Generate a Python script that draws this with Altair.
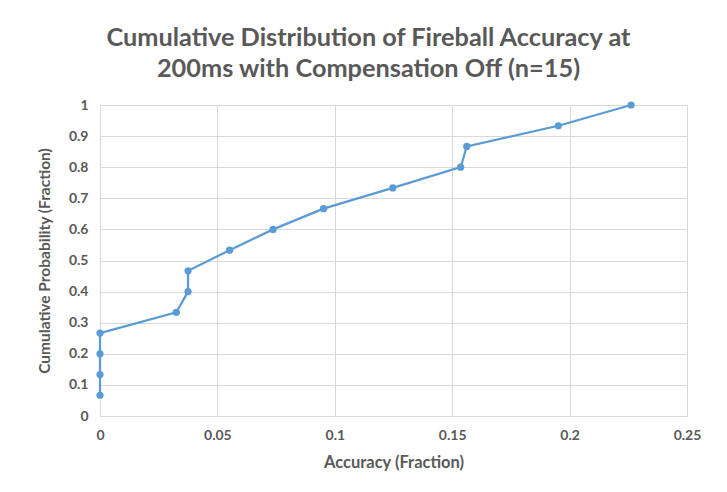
import altair as alt
import pandas as pd

accuracy = [0, 0, 0, 0, 0.0325, 0.0375, 0.0375, 0.0552, 0.0737, 0.0952,
            0.1247, 0.1536, 0.1562, 0.1952, 0.2262]
probability = [0.0667, 0.1333, 0.2, 0.2667, 0.3333, 0.4, 0.4667, 0.5333,
               0.6, 0.6667, 0.7333, 0.8, 0.8667, 0.9333, 1.0]
order = list(range(len(accuracy)))

df = pd.DataFrame({"acc": accuracy, "prob": probability, "ord": order})

FONT = "Lato"
GREY = "#595959"
BLUE = "#5B9BD5"
GRID = "#D9D9D9"

x = alt.X("acc:Q", scale=alt.Scale(domain=[0, 0.25], nice=False),
          axis=alt.Axis(values=[0, 0.05, 0.1, 0.15, 0.2, 0.25], format="~g",
                        title="Accuracy (Fraction)", labelPadding=12,
                        labelFlush=False,
                        titlePadding=12, titleFontSize=16.5))
y = alt.Y("prob:Q", scale=alt.Scale(domain=[0, 1], nice=False),
          axis=alt.Axis(values=[0, 0.1, 0.2, 0.3, 0.4, 0.5, 0.6, 0.7, 0.8, 0.9, 1],
                        format="~g", title="Cumulative Probability (Fraction)",
                        labelFlush=False,
                        labelPadding=12, titlePadding=16, titleFontSize=15.5))

base = alt.Chart(df).encode(x=x, y=y, order="ord:Q")
line = base.mark_line(color=BLUE, strokeWidth=2.25)
pts = base.mark_circle(color=BLUE, size=52, opacity=1)

chart = (line + pts).properties(
    width=587, height=311,
    title=alt.TitleParams(
        ["Cumulative Distribution of Fireball Accuracy at",
         "200ms with Compensation Off (n=15)"],
        font=FONT, fontSize=25.3, fontWeight="bold", color=GREY,
        lineHeight=31, dx=-25, offset=16, anchor="middle"),
    autosize=alt.AutoSizeParams(type="none"),
    padding={"left": 92, "top": 97, "right": 30, "bottom": 70},
    background="white",
).configure_view(stroke=None).configure_axis(
    labelFont=FONT, labelFontSize=14, labelFontWeight="bold", labelColor=GREY,
    titleFont=FONT, titleFontWeight="bold", titleColor=GREY,
    gridColor=GRID, gridWidth=1, domain=False, ticks=False,
)

chart.save("out.html", embed_options={"renderer": "svg", "actions": False})
